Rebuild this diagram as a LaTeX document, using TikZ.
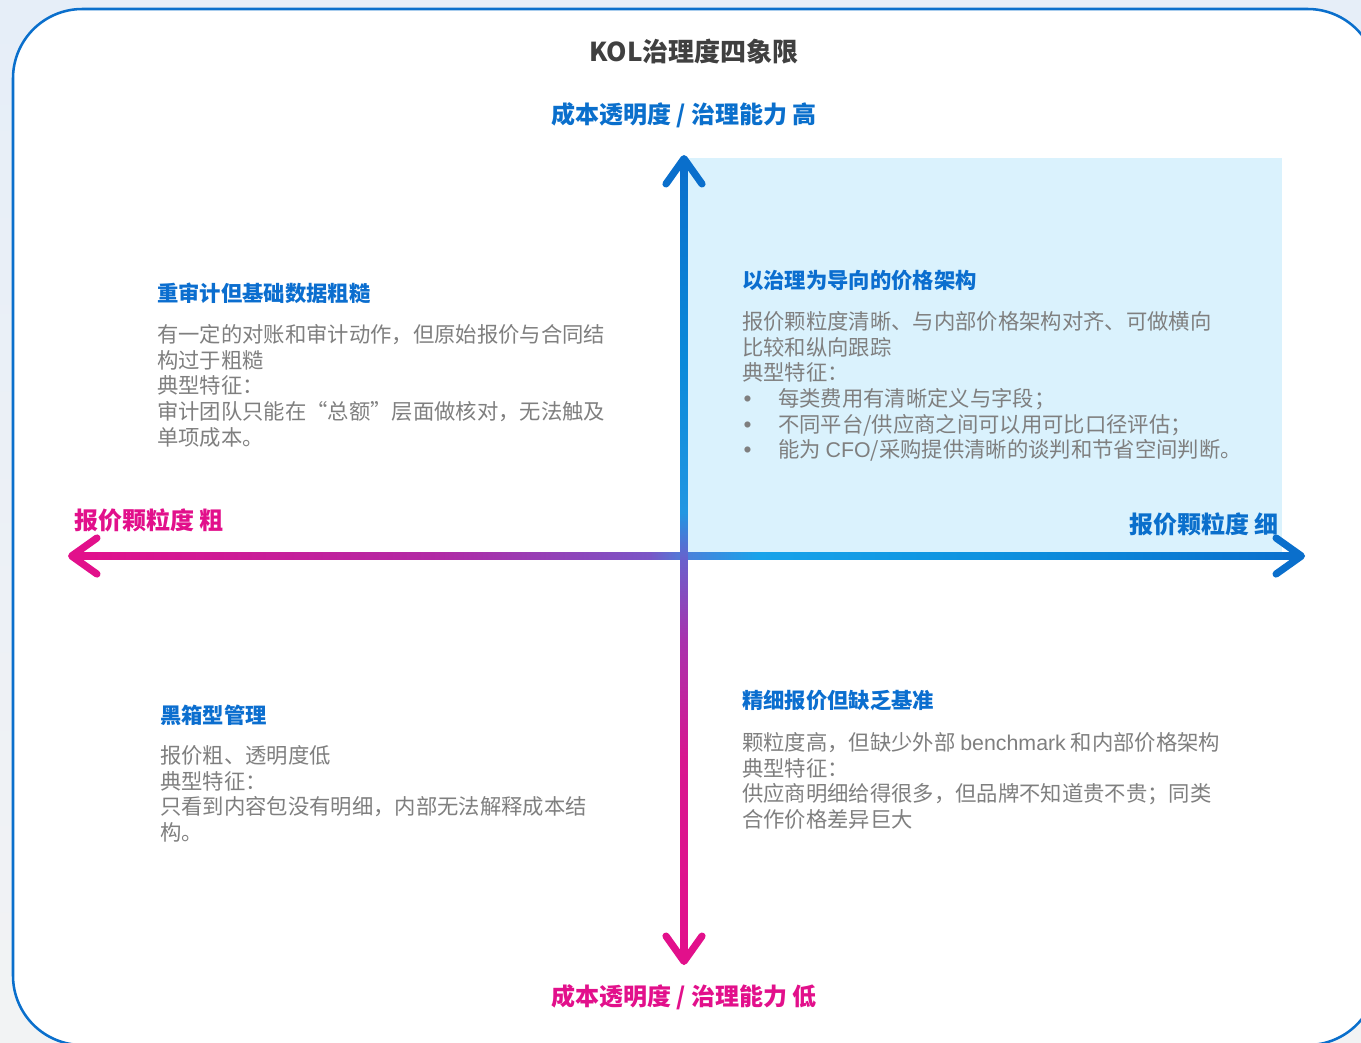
\documentclass[tikz,border=0pt]{standalone}
\usepackage{fontspec}
\setmainfont{Noto Sans CJK SC}
\newfontfamily\latinfont{Liberation Sans}
\usetikzlibrary{arrows.meta,calc}
\definecolor{axblue}{HTML}{0A6FCC}
\definecolor{axmag}{HTML}{E2108B}
\definecolor{hA}{HTML}{B02AA5}
\definecolor{hB}{HTML}{7A55C6}
\definecolor{hC}{HTML}{4C80DA}
\definecolor{hD}{HTML}{18A3EA}
\definecolor{hE}{HTML}{0E92DF}
\definecolor{vA}{HTML}{D8168F}
\definecolor{vB}{HTML}{A833AE}
\definecolor{vC}{HTML}{6A60CC}
\definecolor{vD}{HTML}{2296E2}
\definecolor{vE}{HTML}{0A8ADA}
\definecolor{headblue}{HTML}{0B6ECF}
\definecolor{bodygray}{HTML}{7F7F7F}
\definecolor{titlegray}{HTML}{404040}
\definecolor{quadfill}{HTML}{DAF2FD}
\definecolor{bgtop}{HTML}{E6EEF8}
\definecolor{bgbot}{HTML}{F2F3F4}
\pgfdeclarehorizontalshading{hax}{100bp}{color(0bp)=(axmag); color(25bp)=(axmag); color(40bp)=(hA); color(48.5bp)=(hB); color(50bp)=(hC); color(53bp)=(hD); color(62.5bp)=(hE); color(75bp)=(axblue); color(100bp)=(axblue)}
\pgfdeclareverticalshading{vax}{100bp}{color(0bp)=(axmag); color(25bp)=(axmag); color(37.5bp)=(vA); color(45bp)=(vB); color(50bp)=(vC); color(53bp)=(vD); color(62.5bp)=(vE); color(75bp)=(axblue); color(100bp)=(axblue)}
\newcommand{\bul}{\makebox[27pt][l]{\hspace{1pt}{\latinfont\fontsize{17}{19.3}\selectfont •}}}
\tikzset{
  body/.style={font=\fontsize{16}{19.3}\selectfont, text=bodygray, align=left, inner sep=0pt, anchor=north west},
  head/.style={font=\fontsize{16}{19.3}\selectfont\bfseries, text=headblue, align=left, inner sep=0pt, anchor=north west},
  axlabel/.style={font=\fontsize{18}{21}\selectfont\bfseries, inner sep=0pt},
  axhead/.style={line width=5.4pt, -{Straight Barb[length=19pt,width=27pt,line cap=round,line join=round]}},
}
\begin{document}
\begin{tikzpicture}[x=0.75pt,y=-0.75pt]
\useasboundingbox (0,0) rectangle (1361,1043);
% background
\shade[top color=bgtop, bottom color=bgbot] (0,0) rectangle (1361,1043);
% frame
\draw[draw=axblue, line width=1.9pt, fill=white, rounded corners=52pt] (13,9) rectangle (1377,1045);
% quadrant fill
\fill[quadfill] (684,158) rectangle (1282,556);
% axes coordinates
\coordinate (O) at (684,556);
\coordinate (L) at (68,556);
\coordinate (R) at (1305,556);
\coordinate (T) at (684,155);
\coordinate (B) at (684,965);
% shafts
\shade[shading=hax] ($(L)+(8,-3.3)$) rectangle ($(R)+(-10,3.3)$);
\shade[shading=vax] ($(T)+(-3.3,10)$) rectangle ($(B)+(3.3,-10)$);
% heads
\draw[axhead, draw=axmag] ($(L)+(22,0)$) -- (L);
\draw[axhead, draw=axblue] ($(R)+(-22,0)$) -- (R);
\draw[axhead, draw=axblue] ($(T)+(0,22)$) -- (T);
\draw[axhead, draw=axmag] ($(B)+(0,-22)$) -- (B);
% title and axis labels
\node[font=\fontsize{19.5}{24}\selectfont\bfseries, text=titlegray, inner sep=0pt] (title) at (694,52) {KOL治理度四象限};
\node[axlabel, text=axblue] (ytop) at (684,115) {成本透明度 / 治理能力 高};
\node[axlabel, text=axmag] (ybot) at (684,997) {成本透明度 / 治理能力 低};
\node[axlabel, text=axmag, anchor=west] (xleft) at (74,520) {报价颗粒度 粗};
\node[axlabel, text=axblue, anchor=east] (xright) at (1279,524) {报价颗粒度 细};
% top-left quadrant
\node[head] (tlh) at (157,283) {重审计但基础数据粗糙};
\node[body] (tlb) at (157,324) {有一定的对账和审计动作，但原始报价与合同结\\构过于粗糙\\典型特征：\\审计团队只能在“总额”层面做核对，无法触及\\单项成本。};
% top-right quadrant
\node[head] (trh) at (742,270) {以治理为导向的价格架构};
\node[body] (trb) at (742,311) {报价颗粒度清晰、与内部价格架构对齐、可做横向\\比较和纵向跟踪\\典型特征：\\\bul 每类费用有清晰定义与字段；\\\bul 不同平台/供应商之间可以用可比口径评估；\\\bul 能为 {\latinfont CFO}/采购提供清晰的谈判和节省空间判断。};
% bottom-left quadrant
\node[head] (blh) at (160,705) {黑箱型管理};
\node[body] (blb) at (160,745) {报价粗、透明度低\\典型特征：\\只看到内容包没有明细，内部无法解释成本结\\构。};
% bottom-right quadrant
\node[head] (brh) at (742,690) {精细报价但缺乏基准};
\node[body] (brb) at (742,732) {颗粒度高，但缺少外部 {\latinfont benchmark} 和内部价格架构\\典型特征：\\供应商明细给得很多，但品牌不知道贵不贵；同类\\合作价格差异巨大};
\end{tikzpicture}
\end{document}
